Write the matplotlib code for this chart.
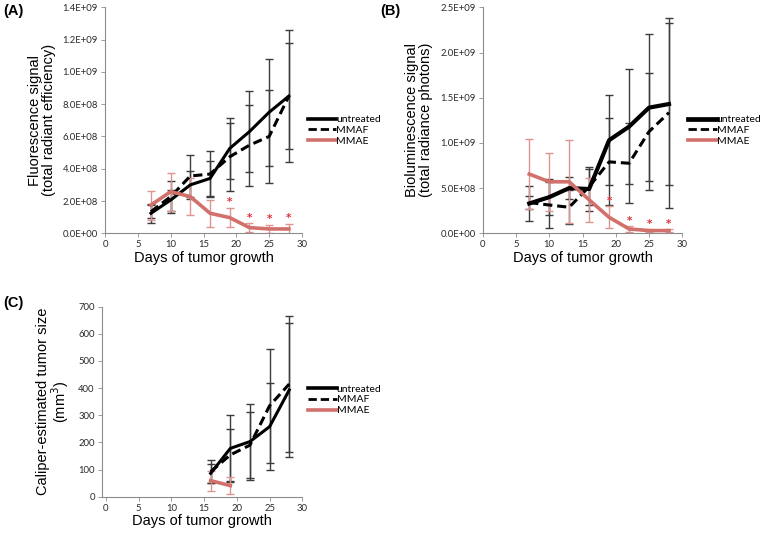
"""
Tumor growth panels (A) fluorescence, (B) bioluminescence, (C) caliper size.
"""

import matplotlib
matplotlib.use('Agg')
import matplotlib.pyplot as plt
from matplotlib.ticker import FuncFormatter

days = [7, 10, 13, 16, 19, 22, 25, 28]

# (A) fluorescence signal
a_untreated = [1.24e8, 2.06e8, 3.0e8, 3.4e8, 5.26e8, 6.3e8, 7.5e8, 8.5e8]
a_untreated_err = [0.6e8, 0.65e8, 0.85e8, 1.1e8, 1.9e8, 2.5e8, 3.3e8, 4.1e8]
a_mmaf = [1.34e8, 2.27e8, 3.55e8, 3.67e8, 4.74e8, 5.46e8, 6.0e8, 8.5e8]
a_mmaf_err = [0.4e8, 1.0e8, 1.3e8, 1.4e8, 2.1e8, 2.5e8, 2.9e8, 3.3e8]
a_mmae = [1.75e8, 2.58e8, 2.27e8, 1.24e8, 0.97e8, 0.35e8, 0.27e8, 0.27e8]
a_mmae_err = [0.9e8, 1.17e8, 1.15e8, 0.85e8, 0.6e8, 0.27e8, 0.27e8, 0.3e8]
a_star_days = [19, 22, 25, 28]

# (B) bioluminescence signal
b_untreated = [3.3e8, 4.0e8, 5.0e8, 4.9e8, 10.3e8, 11.8e8, 13.9e8, 14.3e8]
b_untreated_err = [1.9e8, 2.0e8, 1.2e8, 2.4e8, 5.0e8, 6.4e8, 8.1e8, 9.0e8]
b_mmaf = [3.4e8, 3.13e8, 2.88e8, 5.16e8, 7.9e8, 7.75e8, 11.25e8, 13.35e8]
b_mmaf_err = [0.7e8, 2.5e8, 1.9e8, 2.0e8, 4.8e8, 4.45e8, 6.5e8, 10.5e8]
b_mmae = [6.55e8, 5.7e8, 5.7e8, 3.7e8, 1.77e8, 0.48e8, 0.3e8, 0.3e8]
b_mmae_err = [3.9e8, 3.2e8, 4.6e8, 2.4e8, 1.2e8, 0.3e8, 0.15e8, 0.15e8]
b_star_days = [19, 22, 25, 28]

# (C) caliper-estimated tumor size
c_days = [16, 19, 22, 25, 28]
c_untreated = [86, 178, 203, 258, 393]
c_untreated_err = [35, 123, 140, 160, 248]
c_mmaf = [92, 154, 190, 335, 415]
c_mmaf_err = [43, 95, 122, 211, 250]
c_mmae_days = [16, 19]
c_mmae = [59, 41]
c_mmae_err = [37, 30]

RED = '#d2706b'
RED_ERR = '#dc9590'
BLACK_ERR = '#3c3c3c'
STAR = '#e0313a'
LABEL_FONT = ['Liberation Sans', 'DejaVu Sans']
TICK_FONT = ['Lato', 'DejaVu Sans']


def sci(v, _pos):
    if v == 0:
        return '0.0E+00'
    return f'{v:.1E}'


def draw_series(ax, x, y, err, color, ecolor, ls, lw):
    ax.errorbar(x, y, yerr=err, fmt='none', ecolor=ecolor, elinewidth=1.0,
                capsize=2.6, capthick=1.0, zorder=2)
    ax.plot(x, y, color=color, ls=ls, lw=lw, zorder=3,
            dashes=(3, 1.6) if ls == '--' else (None, None))


def style_axes(ax, xlabel, ylabel, xlim, ylim, yticks, fmt=None):
    ax.set_xlim(*xlim)
    ax.set_ylim(*ylim)
    ax.set_xticks(range(0, 31, 5))
    ax.set_yticks(yticks)
    if fmt is not None:
        ax.yaxis.set_major_formatter(FuncFormatter(fmt))
    for side in ('top', 'right'):
        ax.spines[side].set_visible(False)
    for side in ('left', 'bottom'):
        ax.spines[side].set_color('#8c8c8c')
        ax.spines[side].set_linewidth(0.8)
    ax.tick_params(length=3, width=0.6, color='#8c8c8c', labelsize=6.8, pad=2)
    for lab in ax.get_xticklabels() + ax.get_yticklabels():
        lab.set_family(TICK_FONT)
        lab.set_color('#2a2a2a')
    ax.set_xlabel(xlabel, family=LABEL_FONT, fontsize=10.5, labelpad=1)
    ax.set_ylabel(ylabel, family=LABEL_FONT, fontsize=10.5, labelpad=5,
                  linespacing=1.0)


def add_legend(ax, lw_solid, y_anchor=0.455):
    handles = [
        plt.Line2D([], [], color='black', lw=lw_solid),
        plt.Line2D([], [], color='black', lw=2.0, ls='--', dashes=(3, 1.4)),
        plt.Line2D([], [], color=RED, lw=2.6),
    ]
    ax.legend(handles, ['untreated', 'MMAF', 'MMAE'], loc='center left',
              bbox_to_anchor=(1.01, y_anchor), frameon=False, handlelength=2.7,
              handletextpad=0.0, labelspacing=0.15, borderaxespad=0,
              prop={'family': TICK_FONT, 'size': 7.5})


def add_stars(ax, star_days, x, y, err):
    for d in star_days:
        i = x.index(d)
        ax.annotate('*', (d, y[i] + err[i]), xytext=(0, 0.5),
                    textcoords='offset points', ha='center', va='bottom',
                    color=STAR, fontsize=7.5, fontweight='bold', zorder=4)


fig = plt.figure(figsize=(7.6, 5.36), dpi=100)

# panel A
ax_a = fig.add_axes([105 / 760, 1 - 233.3 / 536, 197 / 760, 226 / 536])
draw_series(ax_a, days, a_untreated, a_untreated_err, 'black', BLACK_ERR, '-', 2.2)
draw_series(ax_a, days, a_mmaf, a_mmaf_err, 'black', BLACK_ERR, '--', 2.2)
draw_series(ax_a, days, a_mmae, a_mmae_err, RED, RED_ERR, '-', 2.6)
add_stars(ax_a, a_star_days, days, a_mmae, a_mmae_err)
style_axes(ax_a, 'Days of tumor growth',
           'Fluorescence signal\n(total radiant efficiency)',
           (0, 30), (0, 1.4e9), [i * 2e8 for i in range(8)], sci)
add_legend(ax_a, 2.6)

# panel B
ax_b = fig.add_axes([482.7 / 760, 1 - 233.3 / 536, 199.6 / 760, 226 / 536])
draw_series(ax_b, days, b_untreated, b_untreated_err, 'black', BLACK_ERR, '-', 3.0)
draw_series(ax_b, days, b_mmaf, b_mmaf_err, 'black', BLACK_ERR, '--', 2.2)
draw_series(ax_b, days, b_mmae, b_mmae_err, RED, RED_ERR, '-', 2.6)
add_stars(ax_b, b_star_days, days, b_mmae, b_mmae_err)
style_axes(ax_b, 'Days of tumor growth',
           'Bioluminescence signal\n(total radiance photons)',
           (0, 30), (0, 2.5e9), [i * 5e8 for i in range(6)], sci)
add_legend(ax_b, 3.4)

# panel C
ax_c = fig.add_axes([101.7 / 760, 1 - 496.7 / 536, 200.6 / 760, 190 / 536])
draw_series(ax_c, c_days, c_untreated, c_untreated_err, 'black', BLACK_ERR, '-', 2.2)
draw_series(ax_c, c_days, c_mmaf, c_mmaf_err, 'black', BLACK_ERR, '--', 2.2)
draw_series(ax_c, c_mmae_days, c_mmae, c_mmae_err, RED, RED_ERR, '-', 2.6)
style_axes(ax_c, 'Days of tumor growth',
           'Caliper-estimated tumor size\n(mm$^3$)',
           (-0.65, 30), (0, 700), range(0, 701, 100))
add_legend(ax_c, 2.6, y_anchor=0.51)

for label, x, y in (('(A)', 3, 11), ('(B)', 380, 11), ('(C)', 3, 303)):
    fig.text(x / 760, 1 - y / 536, label, family=LABEL_FONT, fontsize=10.5,
             fontweight='bold', va='center', ha='left')

fig.savefig('out.png', dpi=100)
